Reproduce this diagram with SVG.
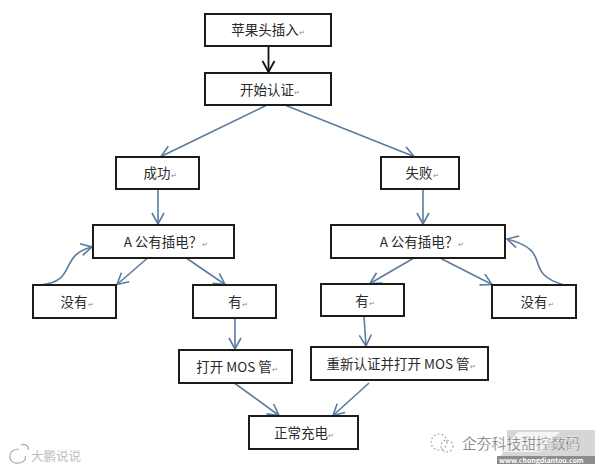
<svg xmlns="http://www.w3.org/2000/svg" width="600" height="470" viewBox="0 0 600 470">
<style>
.box{fill:#fff;stroke:#1c1c1c;stroke-width:2}
.t{font-family:"Noto Sans CJK SC","Liberation Sans",sans-serif;font-size:13.5px;fill:#2a2a2a;text-anchor:middle}
.r{font-size:7px;fill:#888}
.c{fill:none;stroke:#5a7c9f;stroke-width:1.6}
.k{stroke:#111;stroke-width:1.8}
.wm{font-family:"Noto Sans CJK SC","Liberation Sans",sans-serif}
.ic{fill:none;stroke:#aaa;stroke-width:1.2}
</style>
<defs>
<marker id="a" viewBox="0 0 14 14" refX="13" refY="7" markerWidth="14" markerHeight="14" markerUnits="userSpaceOnUse" orient="auto"><path d="M2 1L13 7L2 13" fill="none" stroke="#5a7c9f" stroke-width="1.6"/></marker>
<marker id="b" viewBox="0 0 14 14" refX="13" refY="7" markerWidth="14" markerHeight="14" markerUnits="userSpaceOnUse" orient="auto"><path d="M2 1L13 7L2 13" fill="none" stroke="#111" stroke-width="1.8"/></marker>
</defs>
<rect width="600" height="470" fill="#fff"/>
<path d="M507 430H595V463H497L507 445Z" fill="#d6d6d6"/>
<path d="M500 452L518 432H560L540 452Z" fill="#f4f4f4"/>
<rect x="497" y="456" width="98" height="8" fill="#8d8d8d"/>
<g id="connectors">
<path class="c k" d="M268.500 46V72" marker-end="url(#b)"/>
<path class="c" d="M266 105.500L161 156.500" marker-end="url(#a)"/>
<path class="c" d="M286 105.500L414 156.500" marker-end="url(#a)"/>
<path class="c" d="M158 189V224" marker-end="url(#a)"/>
<path class="c" d="M423 189V224" marker-end="url(#a)"/>
<path class="c" d="M147 258.500L117 284.500" marker-end="url(#a)"/>
<path class="c" d="M187 258.500L225 284.500" marker-end="url(#a)"/>
<path class="c" d="M413 258.500L370 283.500" marker-end="url(#a)"/>
<path class="c" d="M441 258.500L492 284.500" marker-end="url(#a)"/>
<path class="c" d="M235 318V349" marker-end="url(#a)"/>
<path class="c" d="M364 316.500L366 346" marker-end="url(#a)"/>
<path class="c" d="M235 383.500L279 415.500" marker-end="url(#a)"/>
<path class="c" d="M369 383L333 415.500" marker-end="url(#a)"/>
<path class="c" d="M40 285C78 282 58 255 92 247" marker-end="url(#a)"/>
<path class="c" d="M564 285C520 272 556 252 507 239" marker-end="url(#a)"/>
</g>
<g id="n1"><rect class="box" x="205" y="14" width="126" height="32"/><text class="t" x="268" y="35">苹果头插入<tspan class="r">↵</tspan></text></g>
<g id="n2"><rect class="box" x="205" y="73" width="126" height="32"/><text class="t" x="270" y="95">开始认证<tspan class="r">↵</tspan></text></g>
<g id="n3"><rect class="box" x="116" y="157" width="83" height="32"/><text class="t" x="160" y="178">成功<tspan class="r">↵</tspan></text></g>
<g id="n4"><rect class="box" x="381" y="157" width="78" height="32"/><text class="t" x="422" y="178">失败<tspan class="r">↵</tspan></text></g>
<g id="n5"><rect class="box" x="93" y="225" width="141" height="33"/><text class="t" x="166" y="247">A 公有插电？<tspan class="r">↵</tspan></text></g>
<g id="n6"><rect class="box" x="331" y="225" width="174" height="33"/><text class="t" x="422" y="247">A 公有插电？<tspan class="r">↵</tspan></text></g>
<g id="n7"><rect class="box" x="33" y="285" width="83" height="33"/><text class="t" x="77" y="307">没有<tspan class="r">↵</tspan></text></g>
<g id="n8"><rect class="box" x="193" y="285" width="83" height="33"/><text class="t" x="238" y="307">有<tspan class="r">↵</tspan></text></g>
<g id="n9"><rect class="box" x="321" y="284" width="83" height="32"/><text class="t" x="365" y="306">有<tspan class="r">↵</tspan></text></g>
<g id="n10"><rect class="box" x="492" y="285" width="84" height="33"/><text class="t" x="537" y="307">没有<tspan class="r">↵</tspan></text></g>
<g id="n11"><rect class="box" x="179" y="350" width="113" height="33"/><text class="t" x="237" y="372">打开 MOS 管<tspan class="r">↵</tspan></text></g>
<g id="n12"><rect class="box" x="311" y="347" width="177" height="33"/><text class="t" x="401" y="369">重新认证并打开 MOS 管<tspan class="r">↵</tspan></text></g>
<g id="n13"><rect class="box" x="249" y="416" width="109" height="33"/><text class="t" x="304" y="438">正常充电<tspan class="r">↵</tspan></text></g>
<path class="ic" d="M19 449C8 449 7 461 15 463C22 464 27 460 25 456M21 445A5 4 0 0 1 28 450"/>
<text class="wm" x="31" y="461" font-size="12.500" fill="#bdbdbd">大鹏说说</text>
<g class="ic" stroke-dasharray="2 2"><circle cx="439" cy="442" r="8"/><circle cx="447" cy="446" r="6"/></g>
<text class="wm" x="462" y="449" font-size="14.800" fill="#666" stroke="#fff" stroke-width="0.300">企夯科技甜控数码</text>
<text class="wm" x="499" y="463" font-size="7" font-weight="bold" fill="#fff">www.chongdiantou.com</text>
</svg>
